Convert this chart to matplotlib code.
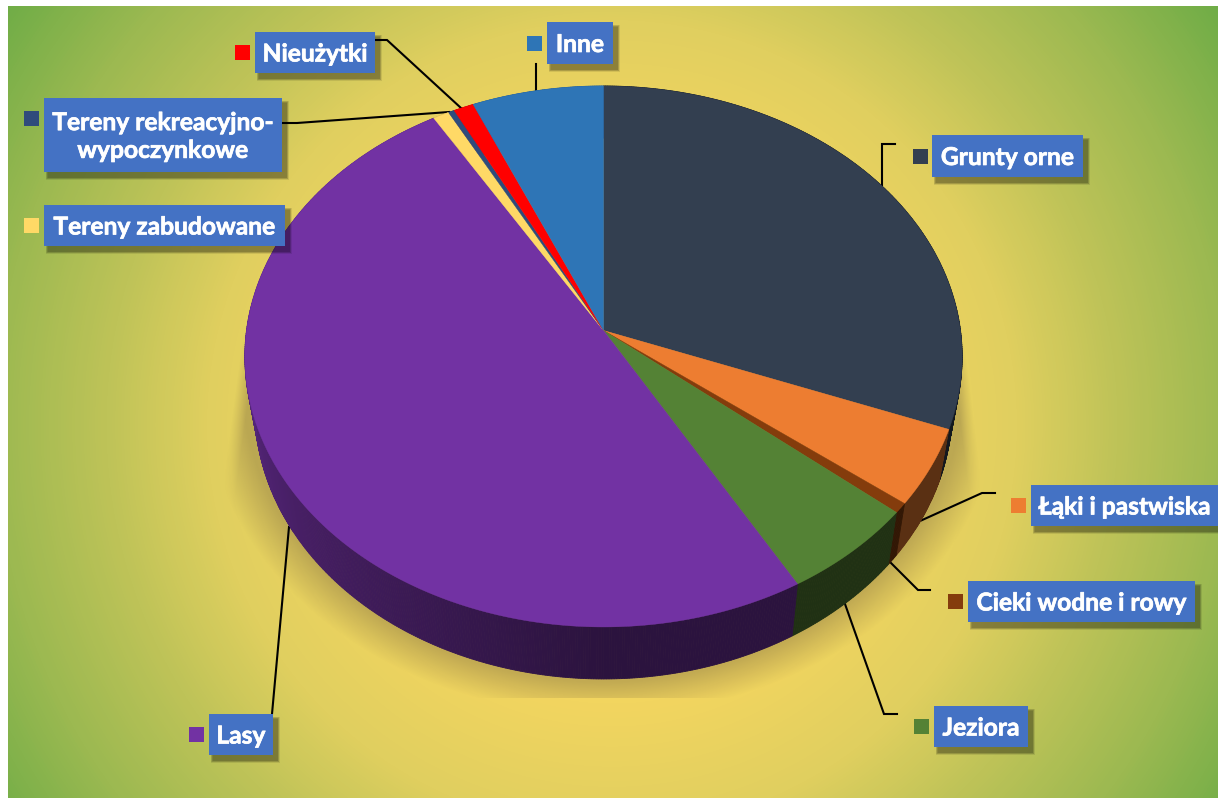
import numpy as np
import matplotlib
matplotlib.use("Agg")
import matplotlib.pyplot as plt
import matplotlib.patheffects as pe
from matplotlib.colors import LinearSegmentedColormap, to_rgb
from matplotlib.patches import Rectangle

plt.rcParams['font.family'] = ['Lato', 'DejaVu Sans']

# land use shares (%)
categories = ["Grunty orne", "Łąki i pastwiska", "Cieki wodne i rowy", "Jeziora", "Lasy",
              "Tereny zabudowane", "Tereny rekreacyjno-\nwypoczynkowe", "Nieużytki", "Inne"]
shares = [30.8, 4.6, 0.6, 5.7, 49.7, 0.8, 0.3, 1.0, 6.5]
colors = ["#333F50", "#ED7D31", "#843C0C", "#548235", "#7232A3",
          "#FFD966", "#2F4B7C", "#FF0000", "#2E75B6"]

# layout in pixels: box (x0, y0, x1, y1), legend key (x, y), leader line
boxes = [(932, 135, 1083, 177), (1031, 485, 1218, 526), (968, 581, 1195, 622),
         (934, 706, 1028, 747), (209, 714, 273, 755), (44, 205, 285, 246),
         (44, 98, 282, 172), (255, 32, 375, 73), (547, 22, 613, 64)]
keys = [(913, 149), (1011, 498), (948, 594), (914, 719), (189, 727),
        (24, 218), (24, 111), (235, 45), (527, 36)]
leaders = [[(882, 185), (882, 144), (895, 144)],
           [(920, 521), (982, 493), (995, 493)],
           [(890, 562), (918, 590), (930, 590)],
           [(845, 604), (884, 714), (897, 714)],
           [(289, 527), (272, 714)],
           [],
           [(282, 123), (297, 123), (449, 112)],
           [(375, 40), (387, 40), (461, 108)],
           [(536, 64), (536, 92)]]

W, H = 1218, 800
CX, CY = 603.5, 330.5
A, B, K = 357, 268, 0.096
DEPTH = 52
BOTTOM_SCALE = 0.972


def project(theta):
    # angle clockwise from 12 o'clock onto the tilted disc
    x, y = np.sin(theta), np.cos(theta)
    w = 1 + K * y
    return CX + A * x / w, CY - B * y / w


def side_shade(theta):
    # the wall is lit from the left
    t = np.clip((np.degrees(theta) - 180) / 90, 0, 1)
    return 0.38 + 0.40 * t


fig = plt.figure(figsize=(W / 100, H / 100), dpi=100)
ax = fig.add_axes([0, 0, 1, 1])
ax.axis("off")

# background gradient
xx, yy = np.meshgrid(np.arange(8, W) + 0.5, np.arange(6, 798) + 0.5)
r = np.hypot(xx - 612, yy - 425) / 735
bg_cmap = LinearSegmentedColormap.from_list("bg", [(0, "#F4D660"), (0.38, "#F2D55F"), (0.55, "#E0CF5F"),
                                                   (0.69, "#BEC358"), (0.84, "#9CB951"), (1, "#70AD47")])
ax.imshow(bg_cmap(np.clip(r, 0, 1)), extent=(8, W, 798, 6), zorder=0, aspect="auto", interpolation="bilinear")

# soft shadow under the pie
d = np.hypot((xx - 603) / 400, (yy - 385) / 330)
alpha = np.clip((1 - d) / 0.10, 0, 1) * np.clip((yy - 320) / 60, 0, 1) * (yy < 698)
left_edge = 245 - (yy - 320) * 27 / 200
right_edge = 962 + (yy - 320) * 23 / 190
alpha = alpha * np.clip((xx - left_edge) / 14, 0, 1) * np.clip((right_edge - xx) / 14, 0, 1)
shadow = np.zeros(xx.shape + (4,))
shadow[..., :3] = to_rgb("#7A6A40")
shadow[..., 3] = alpha * 0.4
ax.imshow(shadow, extent=(8, W, 798, 6), zorder=1, aspect="auto", interpolation="bilinear")
ax.set_xlim(0, W)
ax.set_ylim(H, 0)

# leader lines
for line in leaders:
    if line:
        ax.plot([p[0] for p in line], [p[1] for p in line], color="black", lw=1.5, zorder=2,
                solid_joinstyle="miter")

edges = np.cumsum([0] + shares) / sum(shares) * 2 * np.pi

# side wall, built from short strips so the shading can follow the angle
for i, color in enumerate(colors):
    steps = max(3, int((edges[i + 1] - edges[i]) * 150))
    thetas = np.linspace(edges[i], edges[i + 1], steps + 1)
    base = np.array(to_rgb(color))
    for t0, t1 in zip(thetas[:-1], thetas[1:]):
        x0, y0 = project(t0)
        x1, y1 = project(t1)
        bx0 = CX + (x0 - CX) * BOTTOM_SCALE
        bx1 = CX + (x1 - CX) * BOTTOM_SCALE
        c = base * side_shade((t0 + t1) / 2)
        ax.fill([x0, x1, bx1, bx0], [y0, y1, y1 + DEPTH, y0 + DEPTH], color=c, lw=0.6, zorder=3)

# top face
for i, color in enumerate(colors):
    thetas = np.linspace(edges[i], edges[i + 1], max(3, int(shares[i] * 6)))
    x, y = project(thetas)
    ax.fill(np.r_[CX, x], np.r_[CY, y], color=color, lw=0.3, zorder=4)

# labels
for name, color, box, key in zip(categories, colors, boxes, keys):
    x0, y0, x1, y1 = box
    for grow in range(5, 0, -1):
        ax.add_patch(Rectangle((x0 + 4 - grow / 2, y0 + 5 - grow / 2), x1 - x0 + grow, y1 - y0 + grow,
                               color="#000000", alpha=0.09, lw=0, zorder=5))
    ax.add_patch(Rectangle((x0, y0), x1 - x0, y1 - y0, color="#4472C4", lw=0, zorder=6))
    ax.add_patch(Rectangle(key, 15, 15, color=color, lw=0, zorder=6))
    ax.text((x0 + x1) / 2, (y0 + y1) / 2 + 1.5, name, color="white", fontsize=17.7, fontweight="bold",
            ha="center", va="center", linespacing=1.25, zorder=7,
            path_effects=[pe.withStroke(linewidth=0.5, foreground="white")])

fig.savefig("out.png", dpi=100, facecolor="white")
